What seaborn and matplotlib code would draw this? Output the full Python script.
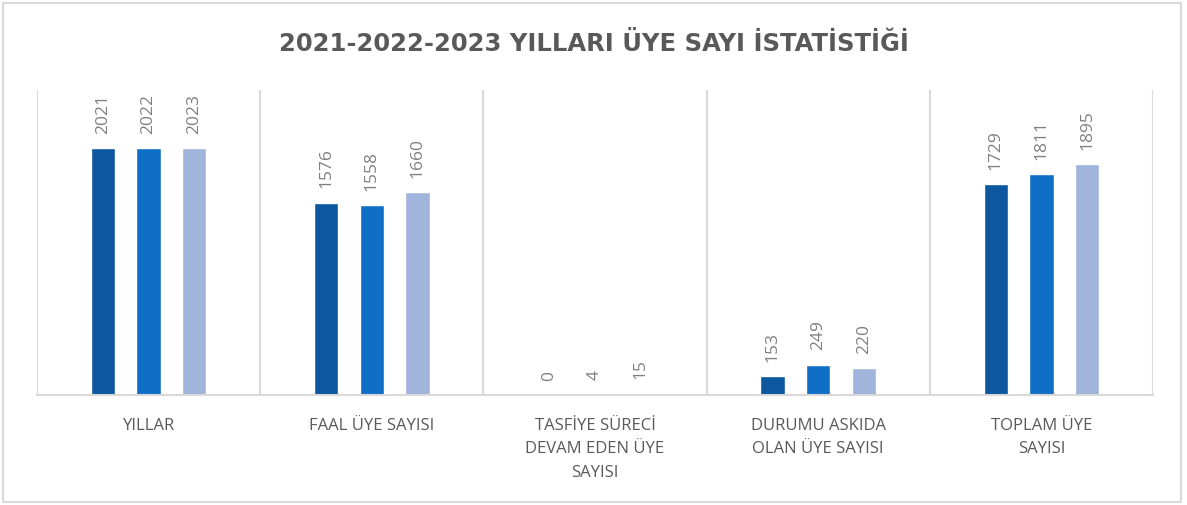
import matplotlib
matplotlib.use("Agg")
import matplotlib.pyplot as plt
import seaborn as sns
import pandas as pd
from matplotlib.patches import Rectangle

categories = ["YILLAR", "FAAL ÜYE SAYISI", "TASFİYE SÜRECİ\nDEVAM EDEN ÜYE\nSAYISI",
              "DURUMU ASKIDA\nOLAN ÜYE SAYISI", "TOPLAM ÜYE\nSAYISI"]
years = ["2021", "2022", "2023"]
values_2021 = [2021, 1576, 0, 153, 1729]
values_2022 = [2022, 1558, 4, 249, 1811]
values_2023 = [2023, 1660, 15, 220, 1895]
title = "2021-2022-2023 YILLARI ÜYE SAYI İSTATİSTİĞİ"
colors = ["#0C579F", "#0F6FC6", "#A1B4DB"]

rows = []
for yr, vals in zip(years, [values_2021, values_2022, values_2023]):
    for c, v in zip(categories, vals):
        rows.append({"cat": c, "year": yr, "val": v})
df = pd.DataFrame(rows)

sns.set_theme(style="white")
plt.rcParams["font.family"] = ["Open Sans", "DejaVu Sans"]

fig = plt.figure(figsize=(11.87, 5.06), dpi=100)
ax = fig.add_axes([37/1187, 1-396/506, (1153-37)/1187, (396-91)/506])

sns.barplot(data=df, x="cat", y="val", hue="year", palette=colors, order=categories,
            hue_order=years, width=0.615, gap=0.47, ax=ax, legend=False, saturation=1)

for cont in ax.containers:
    ax.bar_label(cont, labels=[f"{int(v)}" for v in cont.datavalues], rotation=90,
                 padding=11, color="#808080", fontsize=12.5)

ax.set_xlim(-0.5, 4.5)
ax.set_ylim(0, 2500)
ax.set_xlabel("")
ax.set_ylabel("")
ax.set_yticks([])
for s in ["top", "right", "left"]:
    ax.spines[s].set_visible(False)
ax.spines["bottom"].set_color("#d9d9d9")
ax.spines["bottom"].set_linewidth(1.5)
for xb in [-0.5, 0.5, 1.5, 2.5, 3.5, 4.5]:
    ax.axvline(xb, color="#d9d9d9", lw=1.5, zorder=0)

ax.tick_params(axis="x", length=0, pad=16, labelsize=12, labelcolor="#595959")
for lab in ax.get_xticklabels():
    lab.set_linespacing(1.6)
    lab.set_verticalalignment("top")

fig.text(0.5, 1-44/506, title, ha="center", va="center", fontsize=17.5,
         fontweight="bold", color="#595959", family="DejaVu Sans")

fig.patches.append(Rectangle((3/1187, 3/506), 1178/1187, 499/506, transform=fig.transFigure,
                             fill=False, edgecolor="#d9d9d9", lw=1.5))

fig.savefig("out.png", dpi=100, facecolor="white")
